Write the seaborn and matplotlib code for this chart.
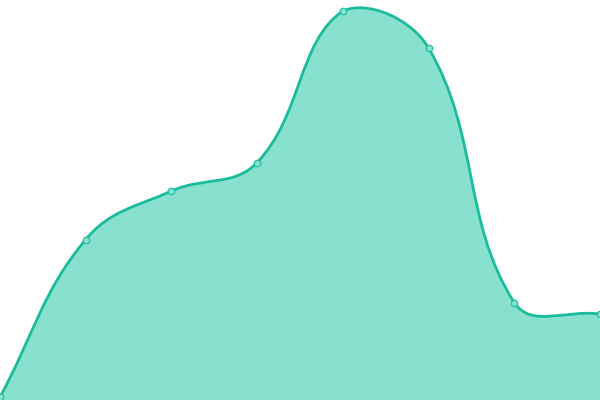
import numpy as np
import pandas as pd
import seaborn as sns
import matplotlib
matplotlib.use('Agg')
import matplotlib.pyplot as plt
from matplotlib.path import Path
from matplotlib.patches import PathPatch

# data
steps = [0, 1, 2, 3, 4, 5, 6, 7]
values = [3, 160.5, 209, 237.5, 389, 352, 97.5, 86]
line_col = '#1abc9c'
fill_col = '#88e0cf'
tension = 0.4

sns.set_theme(style='white')
fig = plt.figure(figsize=(6, 4), dpi=100)
ax = fig.add_axes([0, 0, 1, 1])
ax.set_xlim(0, 7)
ax.set_ylim(0, 400)
ax.axis('off')

# smooth curve, control points worked out in pixel space (chart.js style)
pts = ax.transData.transform(np.column_stack([steps, values]))
w, h = fig.bbox.width, fig.bbox.height
n = len(pts)
cp_prev = np.zeros_like(pts)
cp_next = np.zeros_like(pts)
for i in range(n):
    p0 = pts[max(i - 1, 0)]
    p1 = pts[i]
    p2 = pts[min(i + 1, n - 1)]
    d01 = np.hypot(*(p1 - p0))
    d12 = np.hypot(*(p2 - p1))
    s01 = d01 / (d01 + d12)
    s12 = d12 / (d01 + d12)
    cp_prev[i] = p1 - tension * s01 * (p2 - p0)
    cp_next[i] = p1 + tension * s12 * (p2 - p0)
cp_prev[:, 0] = np.clip(cp_prev[:, 0], 0, w)
cp_prev[:, 1] = np.clip(cp_prev[:, 1], 0, h)
cp_next[:, 0] = np.clip(cp_next[:, 0], 0, w)
cp_next[:, 1] = np.clip(cp_next[:, 1], 0, h)

inv = ax.transData.inverted()
pts_d = inv.transform(pts)
cpp = inv.transform(cp_prev)
cpn = inv.transform(cp_next)

verts = [pts_d[0]]
codes = [Path.MOVETO]
for i in range(n - 1):
    verts += [cpn[i], cpp[i + 1], pts_d[i + 1]]
    codes += [Path.CURVE4] * 3

line_path = Path(verts, codes)
fill_path = Path(verts + [(steps[-1], 0), (steps[0], 0), pts_d[0]],
                 codes + [Path.LINETO, Path.LINETO, Path.CLOSEPOLY])

ax.add_patch(PathPatch(fill_path, facecolor=fill_col, edgecolor='none', zorder=1))
ax.add_patch(PathPatch(line_path, facecolor='none', edgecolor=line_col, lw=2.0, zorder=2))

df = pd.DataFrame({'step': steps, 'value': values})
sns.scatterplot(data=df, x='step', y='value', ax=ax, s=22, color=fill_col,
                edgecolor=line_col, linewidth=0.8, zorder=3, clip_on=False)
ax.set_xlim(0, 7)
ax.set_ylim(0, 400)

fig.savefig('out.png', dpi=100)
